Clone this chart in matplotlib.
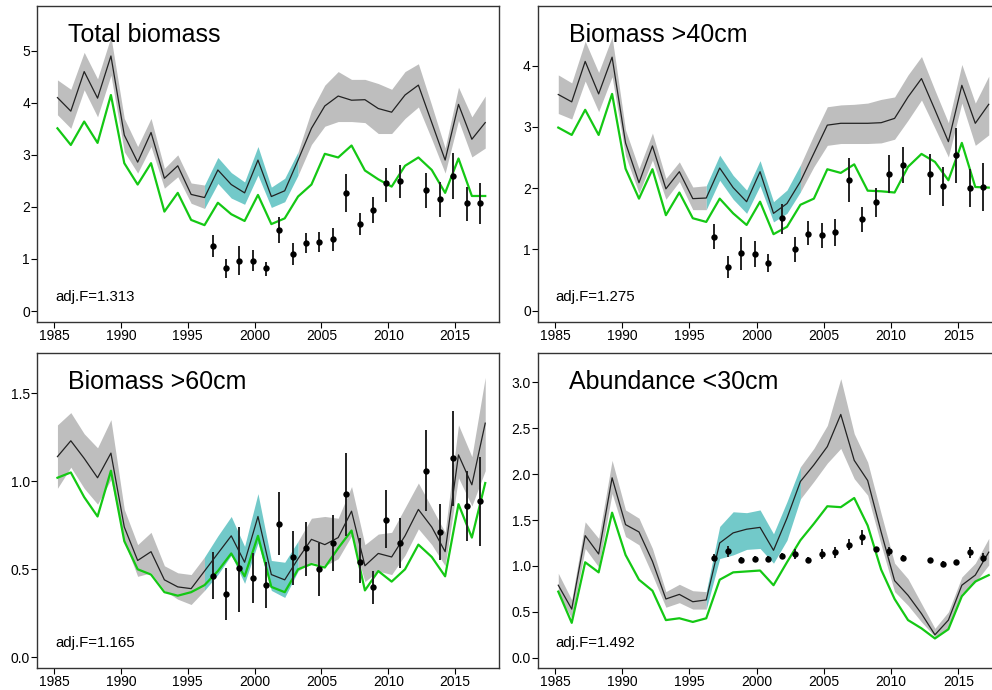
import matplotlib
matplotlib.use("Agg")
import matplotlib.pyplot as plt
import numpy as np

plt.rcParams['font.family'] = ['Liberation Sans', 'DejaVu Sans']

years = list(range(1985, 2018))
obs_years = [1997, 1998, 1999, 2000, 2001, 2002, 2003, 2004, 2005, 2006, 2007,
             2008, 2009, 2010, 2011, 2013, 2014, 2015, 2016, 2017]
survey_start, survey_end = 1996, 2003

titles = ["Total biomass", "Biomass >40cm", "Biomass >60cm", "Abundance <30cm"]
adjF = ["adj.F=1.313", "adj.F=1.275", "adj.F=1.165", "adj.F=1.492"]

# ---------------- Total biomass ----------------
tb_est = [4.10, 3.84, 4.60, 4.09, 4.90, 3.38, 2.86, 3.43, 2.55, 2.79, 2.24, 2.18,
          2.71, 2.43, 2.27, 2.90, 2.20, 2.31, 2.90, 3.51, 3.94, 4.13, 4.05, 4.06,
          3.89, 3.82, 4.15, 4.34, 3.62, 2.90, 3.97, 3.30, 3.62]
tb_hi = [4.44, 4.26, 4.97, 4.46, 5.27, 3.70, 3.16, 3.70, 2.74, 3.00, 2.46, 2.42,
         2.95, 2.66, 2.48, 3.16, 2.38, 2.55, 3.06, 3.85, 4.34, 4.60, 4.45, 4.45,
         4.37, 4.26, 4.60, 4.75, 3.95, 3.13, 4.30, 3.73, 4.13]
tb_lo = [3.77, 3.51, 4.25, 3.73, 4.53, 3.06, 2.65, 3.16, 2.36, 2.58, 2.07, 1.97,
         2.45, 2.17, 2.05, 2.61, 1.99, 2.10, 2.61, 3.20, 3.55, 3.64, 3.64, 3.62,
         3.41, 3.41, 3.70, 3.92, 3.30, 2.65, 3.66, 2.96, 3.13]
tb_green = [3.51, 3.19, 3.64, 3.23, 4.15, 2.84, 2.43, 2.84, 1.91, 2.27, 1.75, 1.65,
            2.08, 1.86, 1.73, 2.23, 1.67, 1.78, 2.20, 2.43, 3.02, 2.95, 3.18, 2.70,
            2.53, 2.39, 2.79, 2.95, 2.71, 2.27, 2.93, 2.21, 2.21]
tb_obs = [1.25, 0.82, 0.97, 0.97, 0.82, 1.56, 1.09, 1.31, 1.33, 1.38, 2.27,
          1.68, 1.95, 2.45, 2.50, 2.32, 2.15, 2.60, 2.07, 2.07]
tb_obs_hi = [1.46, 0.99, 1.24, 1.17, 0.95, 1.80, 1.30, 1.50, 1.52, 1.59, 2.63,
             1.89, 2.20, 2.75, 2.80, 2.66, 2.48, 3.03, 2.39, 2.45]
tb_obs_lo = [1.04, 0.63, 0.69, 0.76, 0.68, 1.31, 0.88, 1.11, 1.13, 1.16, 1.91,
             1.46, 1.70, 2.10, 2.18, 1.97, 1.80, 2.15, 1.73, 1.67]

# ---------------- Biomass >40cm ----------------
b40_est = [3.53, 3.41, 4.07, 3.54, 4.14, 2.74, 2.09, 2.69, 1.99, 2.27, 1.83, 1.84,
           2.33, 2.01, 1.78, 2.27, 1.59, 1.75, 2.11, 2.57, 3.03, 3.06, 3.06, 3.06,
           3.07, 3.14, 3.49, 3.79, 3.28, 2.76, 3.68, 3.06, 3.37]
b40_hi = [3.85, 3.72, 4.40, 3.89, 4.47, 2.95, 2.32, 2.90, 2.16, 2.43, 2.02, 2.04,
          2.54, 2.21, 1.97, 2.45, 1.78, 1.97, 2.38, 2.87, 3.33, 3.36, 3.37, 3.39,
          3.45, 3.49, 3.85, 4.15, 3.60, 3.07, 4.02, 3.39, 3.83]
b40_lo = [3.22, 3.13, 3.75, 3.25, 3.82, 2.53, 1.92, 2.46, 1.82, 2.11, 1.65, 1.65,
          2.13, 1.82, 1.59, 2.04, 1.45, 1.59, 1.94, 2.35, 2.70, 2.73, 2.73, 2.73,
          2.74, 2.80, 3.11, 3.44, 2.98, 2.51, 3.39, 2.70, 2.87]
b40_green = [2.99, 2.87, 3.28, 2.87, 3.54, 2.32, 1.83, 2.31, 1.56, 1.93, 1.51, 1.45,
             1.83, 1.59, 1.40, 1.78, 1.25, 1.37, 1.73, 1.83, 2.31, 2.25, 2.39, 1.96,
             1.95, 1.93, 2.35, 2.56, 2.43, 2.13, 2.74, 2.02, 2.01]
b40_obs = [1.21, 0.72, 0.94, 0.93, 0.78, 1.51, 1.00, 1.26, 1.24, 1.28, 2.14,
           1.50, 1.77, 2.24, 2.38, 2.23, 2.04, 2.55, 2.01, 2.02]
b40_obs_hi = [1.41, 0.89, 1.21, 1.14, 0.93, 1.75, 1.20, 1.46, 1.44, 1.49, 2.50,
              1.70, 2.01, 2.55, 2.68, 2.56, 2.35, 2.99, 2.32, 2.41]
b40_obs_lo = [1.00, 0.53, 0.66, 0.72, 0.64, 1.26, 0.80, 1.07, 1.03, 1.06, 1.78,
              1.29, 1.53, 1.93, 2.08, 1.89, 1.71, 2.09, 1.69, 1.63]

# ---------------- Biomass >60cm ----------------
b60_est = [1.14, 1.23, 1.13, 1.02, 1.16, 0.74, 0.55, 0.60, 0.44, 0.40, 0.39, 0.49,
           0.59, 0.69, 0.54, 0.80, 0.47, 0.44, 0.56, 0.67, 0.64, 0.68, 0.83, 0.52,
           0.59, 0.57, 0.69, 0.84, 0.74, 0.60, 1.15, 0.98, 1.33]
b60_hi = [1.32, 1.39, 1.27, 1.19, 1.35, 0.84, 0.64, 0.71, 0.52, 0.48, 0.47, 0.57,
          0.69, 0.80, 0.63, 0.93, 0.55, 0.54, 0.66, 0.79, 0.80, 0.79, 0.97, 0.64,
          0.70, 0.71, 0.85, 0.99, 0.85, 0.71, 1.32, 1.14, 1.59]
b60_lo = [0.96, 1.08, 0.96, 0.87, 1.01, 0.66, 0.46, 0.48, 0.38, 0.33, 0.30, 0.38,
          0.47, 0.58, 0.42, 0.65, 0.38, 0.34, 0.49, 0.54, 0.52, 0.56, 0.69, 0.43,
          0.49, 0.47, 0.58, 0.73, 0.64, 0.52, 1.02, 0.86, 1.06]
b60_green = [1.02, 1.05, 0.91, 0.80, 1.06, 0.66, 0.50, 0.47, 0.37, 0.35, 0.37, 0.41,
             0.49, 0.59, 0.46, 0.69, 0.40, 0.37, 0.50, 0.53, 0.51, 0.62, 0.72, 0.38,
             0.49, 0.43, 0.50, 0.64, 0.57, 0.46, 0.87, 0.68, 0.99]
b60_obs = [0.46, 0.36, 0.51, 0.45, 0.41, 0.76, 0.57, 0.62, 0.50, 0.65, 0.93,
           0.54, 0.40, 0.78, 0.65, 1.06, 0.71, 1.13, 0.86, 0.89]
b60_obs_hi = [0.60, 0.51, 0.74, 0.59, 0.54, 0.94, 0.72, 0.77, 0.65, 0.81, 1.16,
              0.68, 0.49, 0.95, 0.79, 1.29, 0.87, 1.40, 1.06, 1.14]
b60_obs_lo = [0.33, 0.21, 0.26, 0.31, 0.28, 0.58, 0.41, 0.46, 0.35, 0.49, 0.69,
              0.42, 0.30, 0.62, 0.51, 0.83, 0.55, 0.86, 0.66, 0.63]

# ---------------- Abundance <30cm ----------------
a30_est = [0.79, 0.53, 1.33, 1.13, 1.96, 1.45, 1.37, 1.05, 0.64, 0.69, 0.61, 0.63,
           1.25, 1.36, 1.40, 1.42, 1.17, 1.52, 1.92, 2.10, 2.30, 2.65, 2.15, 1.93,
           1.37, 0.84, 0.68, 0.48, 0.25, 0.41, 0.79, 0.90, 1.15]
a30_hi = [0.92, 0.63, 1.48, 1.30, 2.15, 1.61, 1.52, 1.19, 0.72, 0.80, 0.73, 0.72,
          1.43, 1.59, 1.58, 1.61, 1.35, 1.70, 2.08, 2.28, 2.53, 3.04, 2.44, 2.13,
          1.57, 1.03, 0.86, 0.59, 0.32, 0.50, 0.88, 1.03, 1.30]
a30_lo = [0.70, 0.43, 1.19, 0.99, 1.79, 1.32, 1.23, 0.90, 0.55, 0.60, 0.53, 0.53,
          1.08, 1.12, 1.18, 1.19, 1.03, 1.28, 1.73, 1.92, 2.12, 2.28, 1.95, 1.77,
          1.23, 0.72, 0.57, 0.39, 0.23, 0.32, 0.70, 0.82, 1.01]
a30_green = [0.72, 0.38, 1.04, 0.93, 1.58, 1.12, 0.85, 0.73, 0.41, 0.43, 0.39, 0.43,
             0.85, 0.93, 0.94, 0.95, 0.79, 1.04, 1.28, 1.46, 1.65, 1.64, 1.74, 1.44,
             0.96, 0.64, 0.41, 0.32, 0.21, 0.31, 0.67, 0.83, 0.90]
a30_obs = [1.09, 1.16, 1.07, 1.08, 1.08, 1.11, 1.13, 1.07, 1.13, 1.15, 1.23,
           1.31, 1.18, 1.16, 1.09, 1.06, 1.02, 1.04, 1.15, 1.09]
a30_obs_hi = [1.13, 1.22, 1.10, 1.11, 1.11, 1.14, 1.18, 1.10, 1.18, 1.21, 1.29,
              1.39, 1.21, 1.21, 1.12, 1.09, 1.05, 1.07, 1.21, 1.14]
a30_obs_lo = [1.05, 1.10, 1.04, 1.05, 1.05, 1.08, 1.08, 1.04, 1.08, 1.09, 1.17,
              1.23, 1.15, 1.11, 1.06, 1.03, 0.99, 1.01, 1.09, 1.04]

panels = [
    (tb_est, tb_lo, tb_hi, tb_green, tb_obs, tb_obs_lo, tb_obs_hi),
    (b40_est, b40_lo, b40_hi, b40_green, b40_obs, b40_obs_lo, b40_obs_hi),
    (b60_est, b60_lo, b60_hi, b60_green, b60_obs, b60_obs_lo, b60_obs_hi),
    (a30_est, a30_lo, a30_hi, a30_green, a30_obs, a30_obs_lo, a30_obs_hi),
]
yticks = [[0, 1, 2, 3, 4, 5], [0, 1, 2, 3, 4],
          [0.0, 0.5, 1.0, 1.5], [0.0, 0.5, 1.0, 1.5, 2.0, 2.5, 3.0]]
yticklabels = [["0", "1", "2", "3", "4", "5"], ["0", "1", "2", "3", "4"],
               ["0.0", "0.5", "1.0", "1.5"],
               ["0.0", "0.5", "1.0", "1.5", "2.0", "2.5", "3.0"]]
ylims = [(-0.211, 5.86), (-0.184, 4.975), (-0.0625, 1.727), (-0.115, 3.316)]
xticks = [1985, 1990, 1995, 2000, 2005, 2010, 2015]

W, H = 992, 690
# axes boxes in pixels: left, top, right, bottom
boxes = [(37, 6, 499, 322), (537.7, 6, 1002.6, 322),
         (37, 353.3, 499, 668.3), (537.7, 353.3, 1002.6, 668.3)]

GREY = '#BEBEBE'
CYAN = '#72C9C9'
GREEN = '#14C814'
LINE_OFF = 0.25
OBS_OFF = -0.15

fig = plt.figure(figsize=(W / 100, H / 100), dpi=100)
for i, (box, data) in enumerate(zip(boxes, panels)):
    l, t, r, b = box
    ax = fig.add_axes([l / W, 1 - b / H, (r - l) / W, (b - t) / H])
    est, lo, hi, green, obs, olo, ohi = data
    x = np.array(years) + LINE_OFF
    yrs = np.array(years)
    lo = np.array(lo); hi = np.array(hi)
    m1 = yrs <= survey_start
    m2 = (yrs >= survey_start) & (yrs <= survey_end)
    m3 = yrs >= survey_end
    ax.fill_between(x[m1], lo[m1], hi[m1], color=GREY, lw=0, zorder=1)
    ax.fill_between(x[m3], lo[m3], hi[m3], color=GREY, lw=0, zorder=1)
    ax.fill_between(x[m2], lo[m2], hi[m2], color=CYAN, lw=0, zorder=1.5)
    ax.plot(x, est, color='#222222', lw=0.9, zorder=3)
    ax.plot(x, green, color=GREEN, lw=1.6, zorder=3)
    ox = np.array(obs_years) + OBS_OFF
    obs = np.array(obs)
    ax.vlines(ox, olo, ohi, color='#222222', lw=1.4, zorder=4)
    ax.plot(ox, obs, 'o', color='black', ms=4.6, zorder=5, mew=0)

    ax.set_xlim(1983.72, 2018.28)
    ax.set_ylim(*ylims[i])
    ax.set_xticks(xticks)
    ax.set_xticklabels([str(v) for v in xticks])
    ax.set_yticks(yticks[i])
    ax.set_yticklabels(yticklabels[i])
    ax.tick_params(direction='out', length=4, width=0.8, pad=1,
                   labelsize=10, colors='black')
    for sp in ax.spines.values():
        sp.set_linewidth(1.0)
        sp.set_color('#333333')
    ax.text(0.067, 0.887, titles[i], transform=ax.transAxes, fontsize=18,
            va='baseline', ha='left')
    ax.text(0.039, 0.068, adjF[i], transform=ax.transAxes, fontsize=10.8,
            va='baseline', ha='left')

fig.savefig('out.png', dpi=100)
